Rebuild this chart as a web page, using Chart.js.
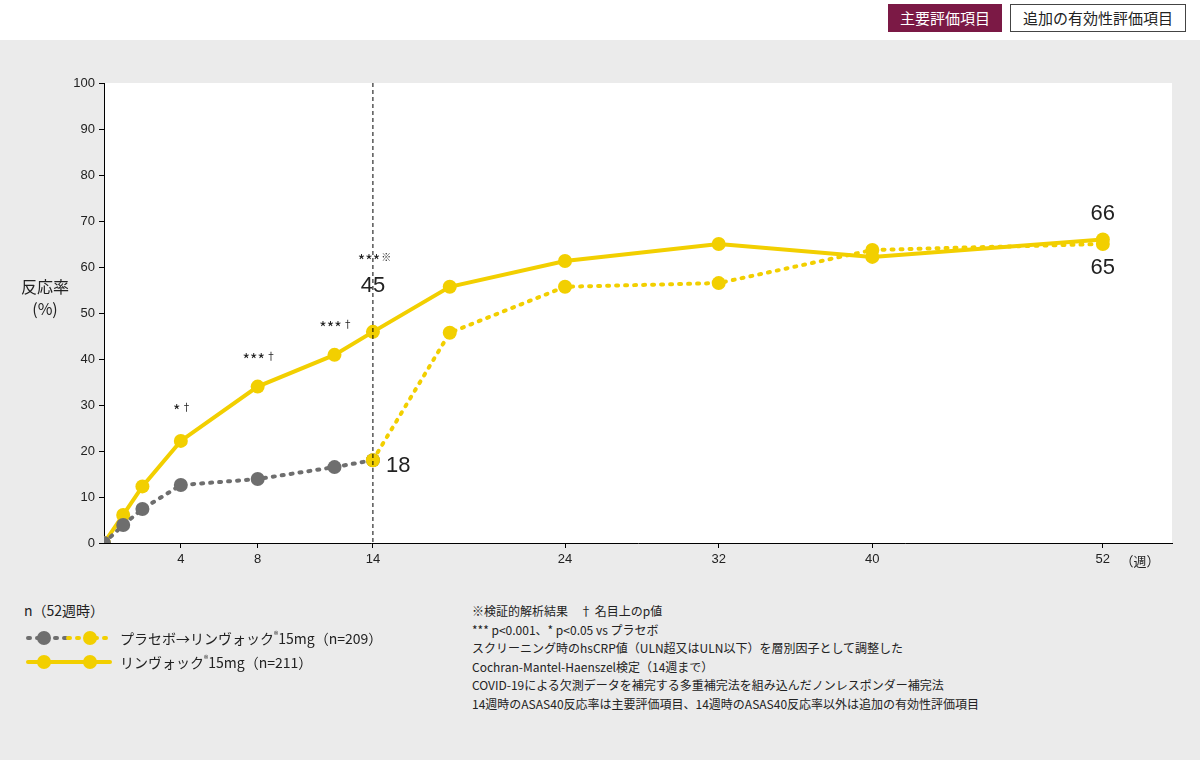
<!DOCTYPE html>
<html><head><meta charset="utf-8">
<script src="https://cdn.jsdelivr.net/npm/chart.js@4"></script>
<style>
body{margin:0;width:1200px;height:760px;background:#ebebeb;font-family:"Noto Sans CJK JP","Noto Sans",sans-serif;position:relative;overflow:hidden;color:#222}
#top{position:absolute;left:0;top:0;width:1200px;height:40px;background:#fff}
.btn{position:absolute;top:4px;height:28px;line-height:28px;font-size:15px;text-align:center}
#b1{left:888px;width:114px;background:#7b1945;color:#fff}
#b2{left:1010px;width:174px;background:#fff;border:1px solid #444;height:26px;line-height:26px}
#wrap{position:absolute;left:0;top:0;width:1200px;height:600px}
#leg{position:absolute;left:24px;top:600px;font-size:14px}
#notes{position:absolute;left:472px;top:602px;font-size:12px;line-height:18.5px}
</style></head><body>
<div id="top"></div>
<div class="btn" id="b1">主要評価項目</div><div class="btn" id="b2">追加の有効性評価項目</div>
<div id="wrap"><canvas id="c" width="1200" height="600"></canvas></div>
<div id="leg">
<div style="margin-bottom:6px">n（52週時）</div>
<div style="display:flex;align-items:center;height:24px"><canvas id="l1" width="90" height="20"></canvas><span style="margin-left:6px">プラセボ→リンヴォック<sup style="font-size:9px">®</sup>15mg（n=209）</span></div>
<div style="display:flex;align-items:center;height:24px"><canvas id="l2" width="90" height="20"></canvas><span style="margin-left:6px">リンヴォック<sup style="font-size:9px">®</sup>15mg（n=211）</span></div>
</div>
<div id="notes">※検証的解析結果　† 名目上のp値<br>*** p&lt;0.001、* p&lt;0.05 vs プラセボ<br>スクリーニング時のhsCRP値（ULN超又はULN以下）を層別因子として調整した<br>Cochran-Mantel-Haenszel検定（14週まで）<br>COVID-19による欠測データを補完する多重補完法を組み込んだノンレスポンダー補完法<br>14週時のASAS40反応率は主要評価項目、14週時のASAS40反応率以外は追加の有効性評価項目</div>
<script>
const weeksRinvoq=[0,1,2,4,8,12,14,18,24,32,40,52];
const rinvoq=[0,6.1,12.3,22.2,34,40.9,45.9,55.7,61.3,65,62.2,66];
const weeksPlacebo=[0,1,2,4,8,12,14];
const placebo=[0,3.9,7.4,12.6,13.9,16.5,18];
const weeksSwitch=[14,18,24,32,40,52];
const switched=[18,45.7,55.7,56.5,63.7,65];
const xTicks=[4,8,14,24,32,40,52];
const yTicks=[0,10,20,30,40,50,60,70,80,90,100];
const Y='#f2cf00',G='#6e6e6e';
const pts=(xs,ys)=>xs.map((x,i)=>({x,y:ys[i]}));
const ann={id:'ann',afterDatasetsDraw(ch){
 const c=ch.ctx,xs=ch.scales.x,ys=ch.scales.y,a=ch.chartArea;
 c.save();
 c.strokeStyle='#000';c.lineWidth=1;c.setLineDash([4,3]);
 c.beginPath();c.moveTo(xs.getPixelForValue(14),a.top);c.lineTo(xs.getPixelForValue(14),a.bottom);c.stroke();c.setLineDash([]);
 c.fillStyle='#222';c.textAlign='center';c.textBaseline='alphabetic';
 const star=(w,v,s,sup)=>{const px=xs.getPixelForValue(w),py=ys.getPixelForValue(v);
  c.font='16px "Noto Sans CJK JP"';const tw=c.measureText(s).width;c.fillText(s,px-4,py);
  c.font='10px "Noto Sans CJK JP"';c.textAlign='left';c.fillText(sup,px-4+tw/2+1,py-6);c.textAlign='center';};
 star(4,27.5,'*','†');star(8,38.5,'***','†');star(12,45.5,'***','†');star(14,60,'***','※');
 c.font='22px "Liberation Sans",sans-serif';
 c.fillText('45',xs.getPixelForValue(14),ys.getPixelForValue(54.5));
 c.textAlign='left';c.fillText('18',xs.getPixelForValue(14)+13,ys.getPixelForValue(15.5));
 c.textAlign='center';c.fillText('66',xs.getPixelForValue(52),ys.getPixelForValue(70.3));
 c.fillText('65',xs.getPixelForValue(52),ys.getPixelForValue(58.5));
 c.font='13px "Noto Sans CJK JP"';c.fillText('（週）',1140,566);
 c.font='16px "Noto Sans CJK JP"';c.fillText('反応率',45,293);c.fillText('(%)',45,315);
 c.restore();}};
new Chart(document.getElementById('c'),{type:'line',
 data:{datasets:[
  {data:pts(weeksSwitch,switched),borderColor:Y,backgroundColor:Y,borderWidth:4,borderDash:[2,7],borderCapStyle:'round',pointRadius:7,pointBorderWidth:0},
  {data:pts(weeksPlacebo,placebo),borderColor:G,backgroundColor:G,borderWidth:4,borderDash:[2,7],borderCapStyle:'round',pointRadius:7,pointBorderWidth:0},
  {data:pts(weeksRinvoq,rinvoq),borderColor:Y,backgroundColor:Y,borderWidth:4,pointRadius:7,pointBorderWidth:0}]},
 options:{animation:false,responsive:false,layout:{padding:{left:0,top:83,right:28,bottom:0}},
  plugins:{legend:{display:false},tooltip:{enabled:false}},
  scales:{
   x:{type:'linear',min:0,max:55.6,afterBuildTicks:s=>{s.ticks=xTicks.map(v=>({value:v}))},afterFit:s=>{s.height=57},
      grid:{drawOnChartArea:false,tickLength:5,color:'#000'},border:{color:'#000'},
      ticks:{color:'#222',font:{size:13,family:'Liberation Sans'},padding:4}},
   y:{min:0,max:100,afterBuildTicks:s=>{s.ticks=yTicks.map(v=>({value:v}))},afterFit:s=>{s.width=104},
      grid:{drawOnChartArea:false,tickLength:5,color:'#000'},border:{color:'#000'},
      ticks:{color:'#222',font:{size:13,family:'Liberation Sans'},padding:4}}}},
 plugins:[{id:'bg',beforeDraw(ch){const a=ch.chartArea,c=ch.ctx;c.save();c.fillStyle='#fff';c.fillRect(a.left,a.top,a.right-a.left,a.bottom-a.top);c.restore();}},ann]});
function leg(id,c1,dash){const c=document.getElementById(id).getContext('2d');c.lineWidth=4;c.lineCap='round';
 c.setLineDash(dash?[2,7]:[]);c.strokeStyle=c1;c.beginPath();c.moveTo(4,10);c.lineTo(44,10);c.stroke();
 c.strokeStyle=Y;c.beginPath();c.moveTo(44,10);c.lineTo(86,10);c.stroke();
 c.fillStyle=c1;c.beginPath();c.arc(20,10,7,0,7);c.fill();c.fillStyle=Y;c.beginPath();c.arc(66,10,7,0,7);c.fill();}
leg('l1',G,true);leg('l2',Y,false);
</script></body></html>
